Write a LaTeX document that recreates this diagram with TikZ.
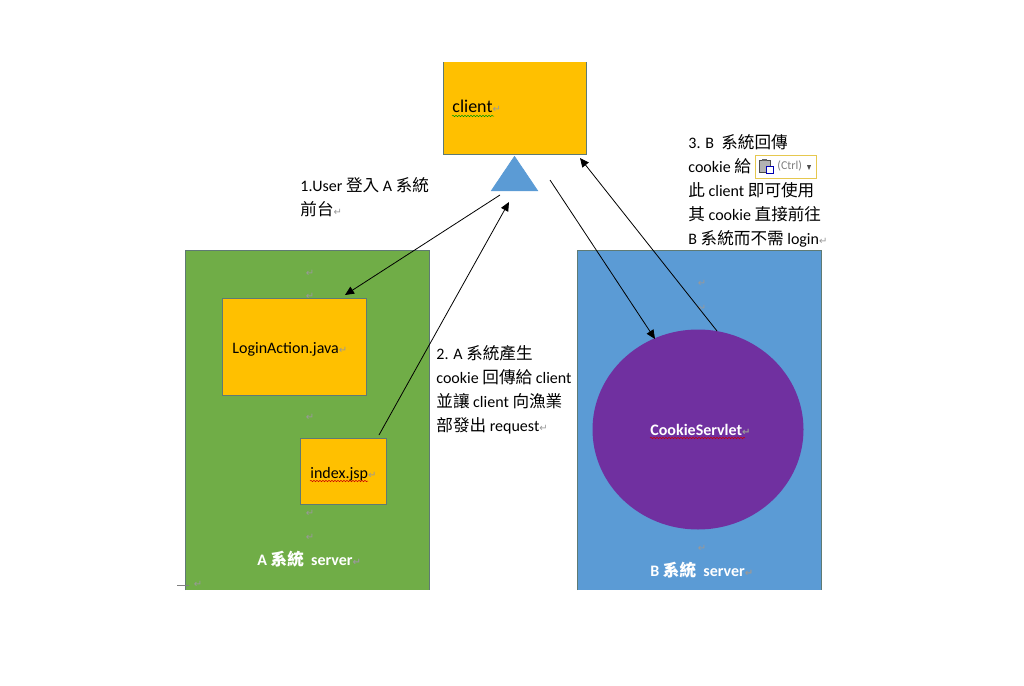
\documentclass[tikz,border=0pt]{standalone}
\usepackage{fontspec}
\setmainfont{Carlito}
\newfontfamily\cjkfont{Noto Sans CJK TC}[Scale=1]
\newfontfamily\markfont{DejaVu Sans}
\usetikzlibrary{positioning,arrows.meta,shapes.geometric,decorations.pathmorphing}
\definecolor{boxorange}{HTML}{FFC000}
\definecolor{boxgreen}{HTML}{70AD47}
\definecolor{boxblue}{HTML}{5B9BD5}
\definecolor{boxpurple}{HTML}{7030A0}
\definecolor{boxedge}{HTML}{5F7A73}
\definecolor{pasteedge}{HTML}{E6C84F}
\newcommand{\zh}[1]{{\cjkfont\fontsize{16.6}{24}\selectfont #1}}
\newcommand{\retmark}{{\markfont\fontsize{10}{10}\selectfont\textcolor{gray!80}{↵}}}
\tikzset{
	page/.style={x=1pt,y=-1pt,>={Triangle[length=9pt,width=8pt]},line width=0.8pt},
	box/.style={rectangle,inner sep=0,outer sep=0,anchor=north west},
	outline/.style={draw=boxedge,line width=0.7pt},
	label/.style={inner sep=0,anchor=base west,font=\fontsize{16}{24}\selectfont},
	note/.style={inner sep=0,anchor=north west,align=left,font=\fontsize{16}{24}\selectfont},
	server/.style={inner sep=0,anchor=base west,text=white,font=\bfseries\fontsize{16}{24}\selectfont},
	wavy/.style={decorate,decoration={snake,amplitude=0.7pt,segment length=3pt},line width=0.5pt},
	retpos/.style={inner sep=0}
}

\begin{document}
\begin{tikzpicture}[page]
	\useasboundingbox (0,0) rectangle (1024,685);
	
	\node[box,fill=boxgreen,minimum width=244pt,minimum height=340pt] (serverA) at (185,250) {};
	\node[box,fill=boxblue,minimum width=244pt,minimum height=340pt] (serverB) at (577,250) {};
	\node[box,fill=boxorange,minimum width=143pt,minimum height=92pt] (client) at (443,62) {};
	\node[box,fill=boxorange,outline,minimum width=144pt,minimum height=97pt] (login) at (222,298) {};
	\node[box,fill=boxorange,outline,minimum width=86pt,minimum height=66pt] (index) at (300,438) {};
	\node[ellipse,fill=boxpurple,inner sep=0,minimum width=211pt,minimum height=200pt] (cookie) at (698,429.5) {};
	\node[isosceles triangle,isosceles triangle apex angle=68,shape border rotate=90,fill=boxblue,draw=boxblue,
		inner sep=0,minimum height=34pt,minimum width=46pt,anchor=south] (user) at (514.5,191) {};
	
	\draw[outline] (serverA.south west) |- (serverA.north east) -- (serverA.south east);
	\draw[outline] (serverB.south west) |- (serverB.north east) -- (serverB.south east);
	\draw[outline] (client.north west) -- (client.south west) -- (client.south east) -- (client.north east);
	
	\node[label,font=\fontsize{18}{24}\selectfont] (clientlbl) at (452,112) {client\retmark};
	\node[label] (loginlbl) at (232,353) {LoginAction.java\retmark};
	\node[label] (indexlbl) at (310,478) {index.jsp\retmark};
	\node[server] (cookielbl) at (650,435) {CookieServlet\retmark};
	\node[server] (serverAlbl) at (257,565) {A \zh{系統} \ server\retmark};
	\node[server] (serverBlbl) at (650,576) {B \zh{系統} \ server\retmark};
	
	\draw[wavy,green!60!black] ([yshift=-4pt]clientlbl.base west) -- ++(42,0);
	\draw[wavy,red!80!black] ([yshift=-3pt]indexlbl.base west) -- ++(58,0);
	\draw[wavy,red!80!black] ([yshift=-3pt]cookielbl.base west) -- ++(95,0);
	
	\node[note] (step1) at (300,177) {1.User \zh{登入} A \zh{系統}\\\zh{前台}\retmark};
	\node[note] (step2) at (436,345) {2. A \zh{系統產生}\\cookie \zh{回傳給} client\\\zh{並讓} client \zh{向漁業}\\\zh{部發出} request\retmark};
	\node[note] (step3) at (688,134) {3. B \ \zh{系統回傳}\\cookie \zh{給}\\\zh{此} client \zh{即可使用}\\\zh{其} cookie \zh{直接前往}\\B \zh{系統而不需} login\retmark};
	
	% paste button
	\node[box,draw=pasteedge,fill=white,line width=0.8pt,minimum width=61pt,minimum height=23pt] (paste) at (755,155) {};
	\node[inner sep=0,anchor=west,text=gray,font=\fontsize{12}{12}\selectfont] (pastelbl) at (777,166) {(Ctrl)};
	\node[isosceles triangle,shape border rotate=-90,fill=black!70,inner sep=0,minimum width=4pt,minimum height=2.5pt] (pastearrow) at (809,166.5) {};
	\node[box,fill=black!30,draw=black!70,line width=0.6pt,minimum width=11pt,minimum height=12pt] (clipboard) at (759,160) {};
	\node[box,fill=black!60,minimum width=5pt,minimum height=2.5pt] (clip) at (762,158.5) {};
	\node[box,fill=white,draw=blue!70!black,line width=0.8pt,minimum width=7pt,minimum height=7pt] (sheet) at (766,166) {};
	
	% paragraph marks
	\foreach \x/\y [count=\i] in {310/273,310/296,310/417,310/513,310/537,198/584,702/283,702/308,702/548}
		\node[retpos] (ret\i) at (\x,\y) {\retmark};
	\coordinate (tickstart) at (177,585);
	\coordinate (tickend) at (189,585);
	\draw[draw=gray,line width=0.6pt] (tickstart) -- (tickend);
	
	\coordinate (a1) at (500,195);
	\coordinate (a2) at (345,295);
	\coordinate (b1) at (379,435);
	\coordinate (b2) at (509,202);
	\coordinate (c1) at (550,180);
	\coordinate (c2) at (655,339);
	\coordinate (d1) at (717,331);
	\coordinate (d2) at (580,158);
	
	\draw[->] (a1) -- (a2);
	\draw[->] (b1) -- (b2);
	\draw[->] (c1) -- (c2);
	\draw[->] (d1) -- (d2);
	
\end{tikzpicture}
\end{document}
